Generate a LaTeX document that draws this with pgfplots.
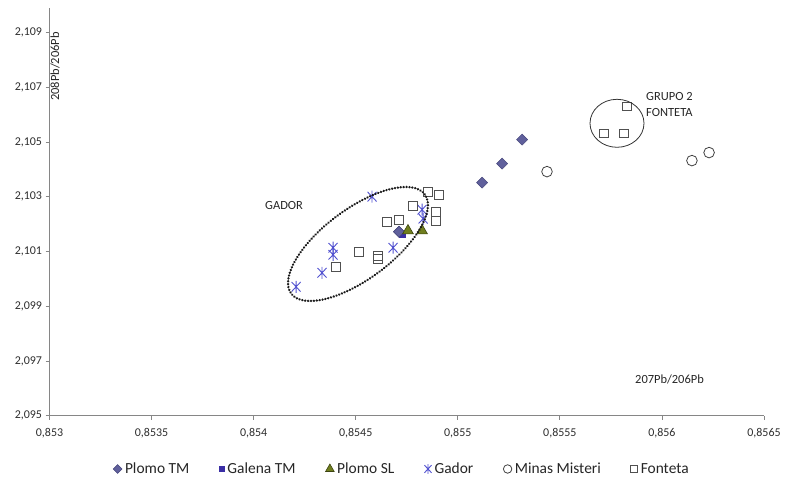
\documentclass[border=0pt]{standalone}
\usepackage{fontspec}
\setmainfont{Carlito}
\usepackage{pgfplots}
\pgfplotsset{compat=1.18}

\definecolor{plomotm}{RGB}{96,96,156}
\definecolor{plomotmedge}{RGB}{72,72,125}
\definecolor{galena}{RGB}{58,46,165}
\definecolor{plomosl}{RGB}{112,126,30}
\definecolor{plomosledge}{RGB}{60,68,16}
\definecolor{gador}{RGB}{82,82,208}
\definecolor{misteri}{RGB}{64,64,64}
\definecolor{fonteta}{RGB}{80,80,80}
\definecolor{axisgray}{RGB}{134,134,134}

% Excel-style star: vertical bar crossed by an X
\pgfdeclareplotmark{xstar}{%
  \pgfpathmoveto{\pgfqpoint{0pt}{\pgfplotmarksize}}%
  \pgfpathlineto{\pgfqpoint{0pt}{-\pgfplotmarksize}}%
  \pgfpathmoveto{\pgfqpoint{-0.75\pgfplotmarksize}{0.8\pgfplotmarksize}}%
  \pgfpathlineto{\pgfqpoint{0.75\pgfplotmarksize}{-0.8\pgfplotmarksize}}%
  \pgfpathmoveto{\pgfqpoint{-0.75\pgfplotmarksize}{-0.8\pgfplotmarksize}}%
  \pgfpathlineto{\pgfqpoint{0.75\pgfplotmarksize}{0.8\pgfplotmarksize}}%
  \pgfusepathqstroke}

\pgfplotsset{
  plomotm style/.style={only marks, mark=square*, mark size=3.9bp,
    mark options={rotate=45, fill=plomotm, draw=plomotmedge, line width=0.5bp}},
}

\begin{document}
\begin{tikzpicture}
\path[use as bounding box] (0,0) rectangle (787bp,478bp);
\begin{axis}[
  at={(49.5bp,62.3bp)}, anchor=south west,
  width=714.5bp, height=407.7bp, scale only axis,
  xmin=0.853, xmax=0.8565, ymin=2.095, ymax=2.1099,
  axis x line*=bottom, axis y line*=left,
  axis line style={-, draw=axisgray, line width=0.8bp},
  xtick={0.853,0.8535,0.854,0.8545,0.855,0.8555,0.856,0.8565},
  xticklabels={{0,853},{0,8535},{0,854},{0,8545},{0,855},{0,8555},{0,856},{0,8565}},
  ytick={2.095,2.097,2.099,2.101,2.103,2.105,2.107,2.109},
  yticklabels={{2,095},{2,097},{2,099},{2,101},{2,103},{2,105},{2,107},{2,109}},
  tick align=outside, major tick length=4bp,
  tick style={draw=axisgray, line width=0.8bp},
  ticklabel style={font=\fontsize{12}{14}\selectfont, text=black!82},
  xticklabel style={yshift=-5bp},
  clip=false,
  legend columns=-1,
  legend style={at={(0.494,-0.1307)}, anchor=center, draw=none, fill=none,
    font=\fontsize{15.5}{18}\selectfont, text=black!85,
    nodes={inner xsep=3bp},
    /tikz/every even column/.append style={column sep=27bp}},
  legend image code/.code={\draw[#1, /tikz/every mark/.append style={scale=0.8}] plot coordinates {(0bp,0bp)};},
]
% Plomo TM
\addplot[plomotm style]
  coordinates {(0.855315,2.105092) (0.855217,2.104213) (0.855119,2.103518) (0.854712,2.101724)};
\addlegendentry{Plomo TM}
% Galena TM (mostly hidden behind a Plomo TM diamond)
\addplot[only marks, mark=square*, mark size=3.2bp,
  mark options={fill=galena, draw=galena}]
  coordinates {(0.854727,2.101640)};
\addlegendentry{Galena TM}
\addplot[plomotm style, forget plot] coordinates {(0.854712,2.101724)};
% Plomo SL
\addplot[only marks, mark=triangle*, mark size=6.2bp,
  mark options={fill=plomosl, draw=plomosledge, line width=0.6bp}]
  coordinates {(0.854756,2.101761) (0.854825,2.101761)};
\addlegendentry{Plomo SL}
% Gador
\addplot[only marks, mark=xstar, mark size=6bp,
  mark options={draw=gador, line width=0.9bp}]
  coordinates {(0.854580,2.103005) (0.854825,2.102529) (0.854830,2.102200)
    (0.854683,2.101138) (0.854389,2.101138) (0.854389,2.100882)
    (0.854335,2.100223) (0.854208,2.099711)};
\addlegendentry{Gador}
% Minas Misteri
\addplot[only marks, mark=o, mark size=5.3bp,
  mark options={draw=misteri, fill=white, line width=0.8bp}]
  coordinates {(0.855437,2.103920) (0.856147,2.104323) (0.856231,2.104616)};
\addlegendentry{Minas Misteri}
% Fonteta
\addplot[only marks, mark=square, mark size=4.3bp,
  mark options={draw=fonteta, line width=0.8bp}]
  coordinates {(0.855829,2.106299) (0.855716,2.105311) (0.855814,2.105311)
    (0.854854,2.103188) (0.854908,2.103078) (0.854781,2.102676)
    (0.854893,2.102456) (0.854893,2.102127) (0.854653,2.102090)
    (0.854712,2.102163) (0.854516,2.100992) (0.854609,2.100846)
    (0.854609,2.100736) (0.854403,2.100443)};
\addlegendentry{Fonteta}
\end{axis}
% axis titles and group labels
\begin{scope}[every node/.style={inner sep=0pt, font=\fontsize{12.5}{15}\selectfont, text=black!85}]
\node[rotate=90, anchor=base east, font=\fontsize{12.5}{15}\selectfont] at (59bp,446bp) {208Pb/206Pb};
\node[anchor=base west] at (635bp,94bp) {207Pb/206Pb};
\node[anchor=base west] at (265bp,268bp) {GADOR};
\node[anchor=base west] at (646bp,377bp) {GRUPO 2};
\node[anchor=base west] at (646bp,361.3bp) {FONTETA};
\end{scope}
% group outlines
\draw[black!90, line width=2.6bp, line cap=round, dash pattern=on 0.01bp off 2.9bp,
  rotate around={36.6:(358bp,234bp)}] (358bp,234bp) ellipse [x radius=83.2bp, y radius=35bp];
\draw[black!80, line width=0.8bp] (617bp,354.7bp) ellipse [x radius=27bp, y radius=24bp];
\end{tikzpicture}
\end{document}
